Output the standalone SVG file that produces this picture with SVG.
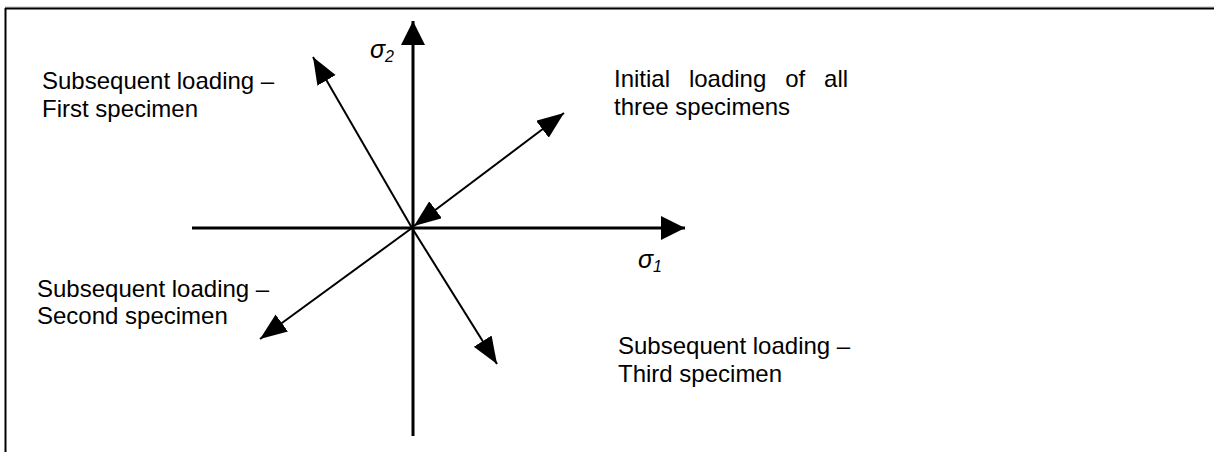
<svg xmlns="http://www.w3.org/2000/svg" width="1214" height="452" viewBox="0 0 1214 452">
<style>
.lbl{font-family:"Liberation Sans",Arial,sans-serif;font-size:24px;fill:#000}
.sym{font-family:"Liberation Sans",Arial,sans-serif;font-style:italic;fill:#000}
.axis{stroke:#000;stroke-width:3;fill:none}
.arr{stroke:#000;stroke-width:2;fill:none}
</style>
<defs>
<marker id="ah" markerUnits="userSpaceOnUse" markerWidth="30" markerHeight="24" refX="27" refY="10.5" orient="auto-start-reverse">
<path d="M0,0 L27,10.5 L0,21 z" fill="#000"/>
</marker>
<marker id="axh" markerUnits="userSpaceOnUse" markerWidth="28" markerHeight="28" refX="24" refY="12" orient="auto">
<path d="M0,0 L24,12 L0,24 z" fill="#000"/>
</marker>
</defs>
<g id="frame">
<line x1="5" y1="7" x2="1214" y2="7" stroke="#bbb" stroke-width="1"/>
<line x1="5" y1="8.5" x2="1214" y2="8.5" stroke="#000" stroke-width="2"/>
<line x1="5.5" y1="8" x2="5.5" y2="452" stroke="#000" stroke-width="2"/>
</g>
<g id="connectors">
<line id="axis-s1" class="axis" x1="192" y1="228" x2="685" y2="228" marker-end="url(#axh)"/>
<line id="axis-s2" class="axis" x1="413" y1="436" x2="413" y2="21" marker-end="url(#axh)"/>
<line id="initial" class="arr" x1="414" y1="226" x2="564" y2="113" marker-start="url(#ah)" marker-end="url(#ah)"/>
<line id="first" class="arr" x1="412" y1="228" x2="313" y2="57" marker-end="url(#ah)"/>
<line id="second" class="arr" x1="412" y1="228" x2="260" y2="339" marker-end="url(#ah)"/>
<line id="third" class="arr" x1="412" y1="228" x2="497" y2="364" marker-end="url(#ah)"/>
</g>
<g id="sigma2">
<text class="sym" x="370" y="58" font-size="25">σ<tspan font-size="16" dy="4">2</tspan></text>
</g>
<g id="sigma1">
<text class="sym" x="638" y="268" font-size="25">σ<tspan font-size="16" dy="4">1</tspan></text>
</g>
<g id="label-first">
<text class="lbl" x="42" y="89">Subsequent loading –</text>
<text class="lbl" x="42" y="117">First specimen</text>
</g>
<g id="label-initial">
<text class="lbl" x="614" y="87" word-spacing="12.2">Initial loading of all</text>
<text class="lbl" x="614" y="115">three specimens</text>
</g>
<g id="label-second">
<text class="lbl" x="37" y="297">Subsequent loading –</text>
<text class="lbl" x="37" y="324">Second specimen</text>
</g>
<g id="label-third">
<text class="lbl" x="618" y="354">Subsequent loading –</text>
<text class="lbl" x="618" y="382">Third specimen</text>
</g>
</svg>
